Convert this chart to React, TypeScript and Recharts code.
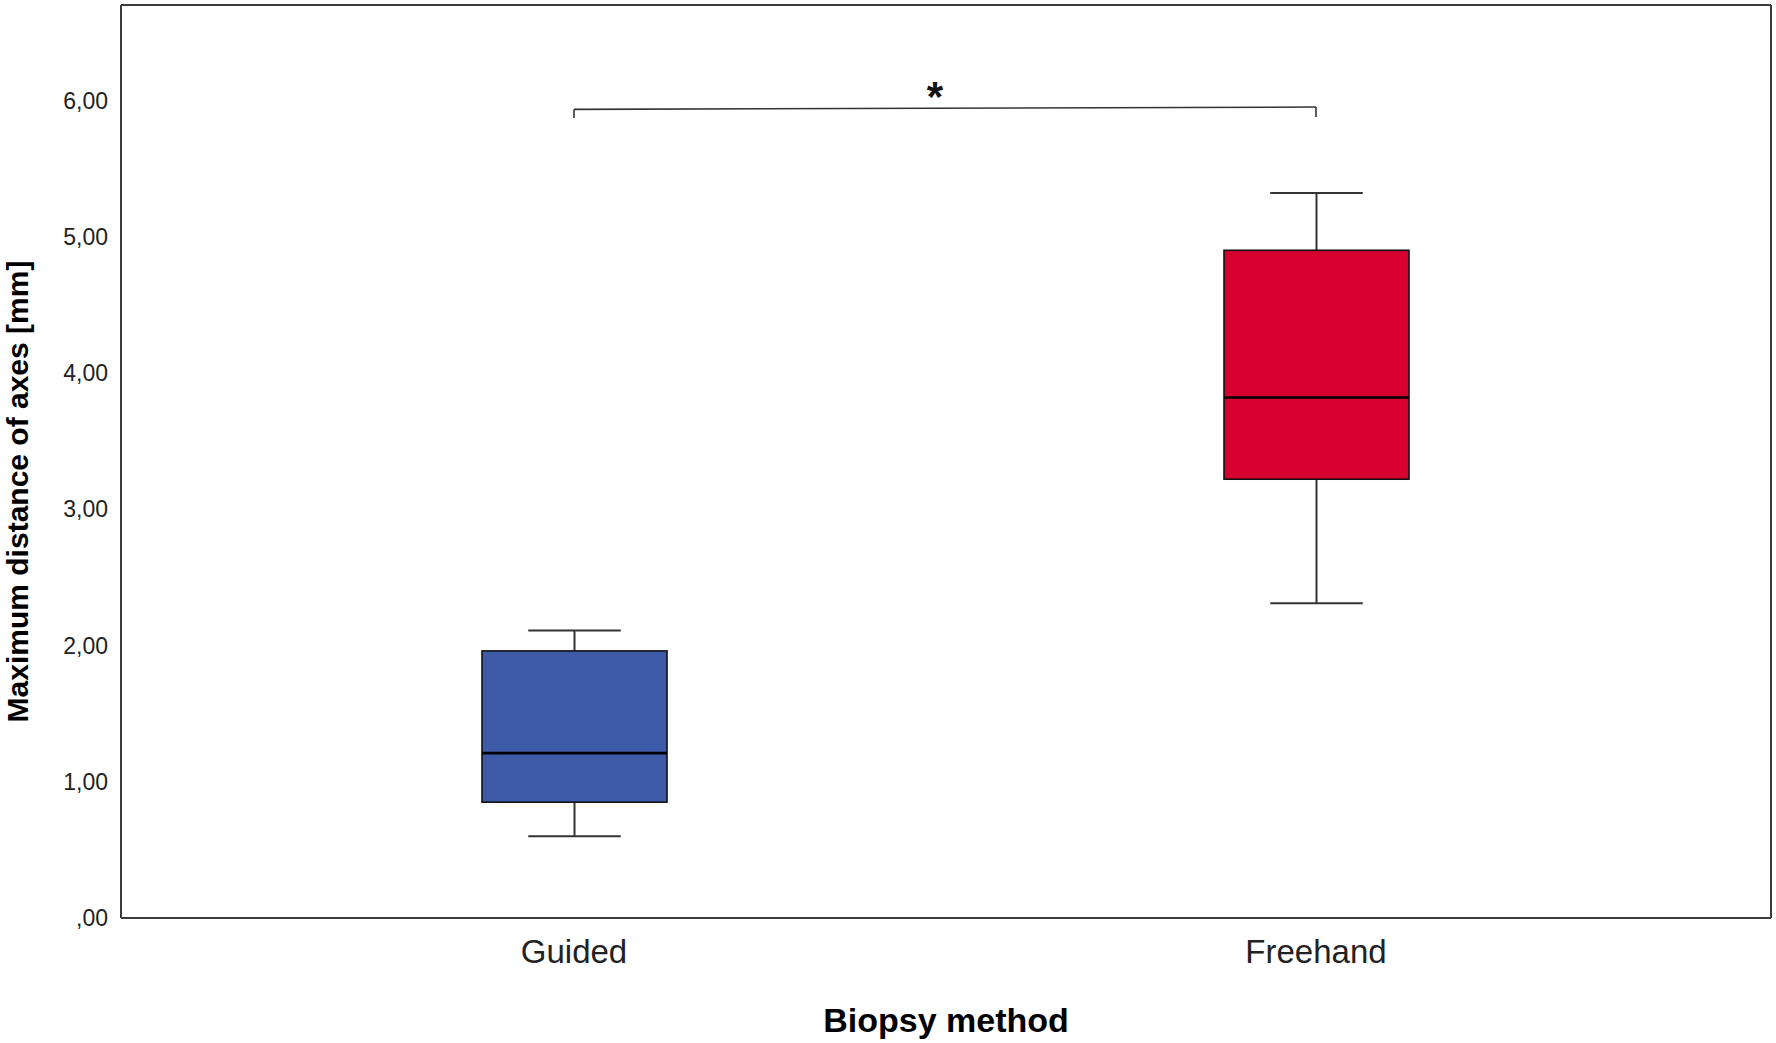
import { ComposedChart, Bar, XAxis, YAxis, ReferenceLine, Label, CartesianGrid } from "recharts";

// box plot values (mm)
const methods = ["Guided", "Freehand"];
const whiskerLow = [0.6, 2.31];
const q1 = [0.85, 3.22];
const median = [1.21, 3.82];
const q3 = [1.96, 4.9];
const whiskerHigh = [2.11, 5.32];

const yTicks = [0, 1, 2, 3, 4, 5, 6];

// significance bracket between the two groups
const bracketLeft = { base: 5.87, top: 5.934 };
const bracketRight = { base: 5.878, top: 5.951 };

const boxColors = ["#3d5ba8", "#d6002f"];
const font = "'Liberation Sans', Arial, sans-serif";
const frame = "#3a3a3a";

const data = methods.map((m, i) => ({
  method: m,
  low: whiskerLow[i],
  q1: q1[i],
  median: median[i],
  q3: q3[i],
  high: whiskerHigh[i],
}));

function BoxShape(props: any) {
  const { x, y, width, height, payload, index } = props;
  const top = Math.min(y, y + height);
  const h = Math.abs(height);
  // pixel per unit taken from the bar the library already scaled
  const k = h / (payload.q3 - payload.q1);
  const py = (v: number) => top + (payload.q3 - v) * k;
  const cx = x + width / 2;
  const cap = width / 4;
  return (
    <g>
      <line x1={cx} x2={cx} y1={py(payload.high)} y2={py(payload.q3)} stroke="#333" strokeWidth={2} />
      <line x1={cx} x2={cx} y1={py(payload.q1)} y2={py(payload.low)} stroke="#333" strokeWidth={2} />
      <line x1={cx - cap} x2={cx + cap} y1={py(payload.high)} y2={py(payload.high)} stroke="#333" strokeWidth={2} />
      <line x1={cx - cap} x2={cx + cap} y1={py(payload.low)} y2={py(payload.low)} stroke="#333" strokeWidth={2} />
      <rect x={x} y={top} width={width} height={h} fill={boxColors[index]} stroke="#111" strokeWidth={1.6} />
      <line x1={x} x2={x + width} y1={py(payload.median)} y2={py(payload.median)} stroke="#000" strokeWidth={2.6} />
    </g>
  );
}

const fmt = (v: number) => (v === 0 ? ",00" : v.toFixed(2).replace(".", ","));

export default function App() {
  return (
    <div style={{ width: 1776, height: 1043, background: "#fff" }}>
      <style>{"body{margin:0}"}</style>
      <ComposedChart
        width={1776}
        height={1043}
        data={data}
        margin={{ top: 5, right: 5, left: 0, bottom: 0 }}
        barCategoryGap={0}
      >
        {/* top and right edges of the frame */}
        <CartesianGrid
          stroke={frame}
          strokeWidth={2}
          horizontalCoordinatesGenerator={({ offset }: any) => [offset.top]}
          verticalCoordinatesGenerator={({ offset }: any) => [offset.left + offset.width]}
        />
        <XAxis
          dataKey="method"
          type="category"
          height={125}
          padding={{ left: 82, right: 84 }}
          axisLine={{ stroke: frame, strokeWidth: 2 }}
          tickLine={false}
          tickMargin={16}
          tick={{ fontSize: 33, fill: "#222", fontFamily: font }}
        >
          <Label
            value="Biopsy method"
            position="insideBottom"
            offset={11}
            style={{ fontSize: 34, fontWeight: "bold", fill: "#000", fontFamily: font }}
          />
        </XAxis>
        <YAxis
          type="number"
          domain={[0, 6.7]}
          ticks={yTicks}
          width={121}
          axisLine={{ stroke: frame, strokeWidth: 2 }}
          tickLine={false}
          tickMargin={7}
          tickFormatter={fmt}
          tick={{ fontSize: 23, fill: "#222", fontFamily: font }}
        >
          <Label
            content={(p: any) => {
              const vb = p.viewBox || { x: 0, y: 5, width: 121, height: 913 };
              const tx = vb.x + 28;
              const ty = vb.y + vb.height / 2 + 30;
              return (
                <text
                  x={tx}
                  y={ty}
                  transform={`rotate(-90 ${tx} ${ty})`}
                  textAnchor="middle"
                  style={{ fontSize: 30, fontWeight: "bold", fill: "#000", fontFamily: font }}
                >
                  Maximum distance of axes [mm]
                </text>
              );
            }}
          />
        </YAxis>
        <Bar
          dataKey={(d: any) => [d.q1, d.q3]}
          barSize={185}
          shape={<BoxShape />}
          isAnimationActive={false}
        />
        <ReferenceLine
          segment={[
            { x: methods[0], y: bracketLeft.top },
            { x: methods[1], y: bracketRight.top },
          ]}
          stroke="#333"
          strokeWidth={1.6}
        >
          <Label
            content={(p: any) => {
              const vb = p.viewBox || { x: 0, y: 0, width: 0, height: 0 };
              return (
                <text
                  x={vb.x + vb.width / 2 - 10}
                  y={vb.y + 4}
                  textAnchor="middle"
                  style={{ fontSize: 42, fontWeight: "bold", fill: "#111", fontFamily: font }}
                >
                  *
                </text>
              );
            }}
          />
        </ReferenceLine>
        <ReferenceLine
          segment={[
            { x: methods[0], y: bracketLeft.base },
            { x: methods[0], y: bracketLeft.top },
          ]}
          stroke="#333"
          strokeWidth={1.6}
        />
        <ReferenceLine
          segment={[
            { x: methods[1], y: bracketRight.base },
            { x: methods[1], y: bracketRight.top },
          ]}
          stroke="#333"
          strokeWidth={1.6}
        />
      </ComposedChart>
    </div>
  );
}
